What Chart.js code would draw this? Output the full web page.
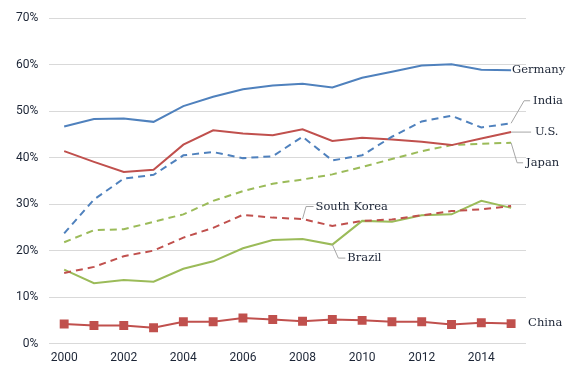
<!DOCTYPE html>
<html>
<head>
<meta charset="utf-8">
<script src="https://cdn.jsdelivr.net/npm/chart.js@4"></script>
<style>
  html, body { margin: 0; padding: 0; background: #fff; }
  #wrap { width: 585px; height: 375px; }
</style>
</head>
<body>
<div id="wrap"><canvas id="grafico"></canvas></div>
<script>
const anos = ["2000","2001","2002","2003","2004","2005","2006","2007","2008","2009","2010","2011","2012","2013","2014","2015"];

const germany    = [46.7, 48.3, 48.4, 47.7, 51.1, 53.1, 54.7, 55.5, 55.9, 55.1, 57.2, 58.5, 59.8, 60.1, 58.9, 58.8];
const india      = [23.7, 31.0, 35.5, 36.3, 40.5, 41.2, 39.9, 40.3, 44.5, 39.4, 40.5, 44.5, 47.8, 49.0, 46.5, 47.4];
const us         = [41.4, 39.1, 36.9, 37.4, 42.8, 45.9, 45.2, 44.8, 46.1, 43.6, 44.3, 43.9, 43.4, 42.7, 44.1, 45.5];
const japan      = [21.8, 24.4, 24.6, 26.2, 27.8, 30.7, 32.8, 34.4, 35.3, 36.4, 38.0, 39.7, 41.4, 42.7, 43.0, 43.2];
const southKorea = [15.2, 16.5, 18.8, 20.0, 22.8, 24.9, 27.7, 27.1, 26.8, 25.3, 26.4, 26.7, 27.6, 28.5, 28.9, 29.6];
const brazil     = [15.9, 13.0, 13.7, 13.3, 16.1, 17.7, 20.5, 22.3, 22.5, 21.3, 26.4, 26.2, 27.6, 27.8, 30.7, 29.2];
const china      = [4.2, 3.9, 3.9, 3.4, 4.7, 4.7, 5.5, 5.2, 4.8, 5.2, 5.0, 4.7, 4.7, 4.1, 4.5, 4.3];

const yTicks = [0, 10, 20, 30, 40, 50, 60, 70];

const AZUL = "#4f81bd";
const VERMELHO = "#c0504d";
const VERDE = "#9bbb59";
const TEXTO = "#1c2536";

// rótulos das séries: ponto de ancoragem + linha guia (deslocamentos em px)
const rotulos = [
  { serie: "Germany",     idx: 15, guia: [],                 texto: [1, 0] },
  { serie: "India",       idx: 15, guia: [[13, -22.5], [19, -22.5]], texto: [22, -22.5] },
  { serie: "U.S.",        idx: 15, guia: [[20, 0]],          texto: [24, 0] },
  { serie: "Japan",       idx: 15, guia: [[6, 20], [12, 20]], texto: [15, 20] },
  { serie: "South Korea", idx: 8,  guia: [[3.5, -12.5], [11, -12.5]], texto: [13, -12.5] },
  { serie: "Brazil",      idx: 9,  guia: [[6, 13.5], [13, 13.5]], texto: [15, 13.5] },
  { serie: "China",       idx: 15, guia: [],                 texto: [17, -1] },
];

const pluginRotulos = {
  id: "rotulos",
  afterDatasetsDraw(chart) {
    const ctx = chart.ctx;
    const x = chart.scales.x;
    const y = chart.scales.y;
    ctx.save();
    rotulos.forEach(r => {
      const ds = chart.data.datasets.find(d => d.label === r.serie);
      const px = x.getPixelForValue(r.idx);
      const py = y.getPixelForValue(ds.data[r.idx]);
      if (r.guia.length) {
        ctx.strokeStyle = "#a6a6a6";
        ctx.lineWidth = 1;
        ctx.beginPath();
        ctx.moveTo(px, py);
        r.guia.forEach(p => ctx.lineTo(px + p[0], py + p[1]));
        ctx.stroke();
      }
      ctx.fillStyle = TEXTO;
      ctx.font = "11.5px 'DejaVu Serif'";
      ctx.textAlign = "left";
      ctx.textBaseline = "middle";
      ctx.fillText(r.serie, px + r.texto[0], py + r.texto[1]);
    });
    ctx.restore();
  }
};

function linha(label, data, cor, tracejado) {
  return {
    label: label,
    data: data,
    borderColor: cor,
    backgroundColor: cor,
    borderWidth: 2,
    borderDash: tracejado ? [7, 5] : [],
    pointRadius: 0,
    tension: 0,
    fill: false,
  };
}

new Chart(document.getElementById("grafico").getContext("2d"), {
  type: "line",
  data: {
    labels: anos,
    datasets: [
      linha("Germany", germany, AZUL, false),
      linha("India", india, AZUL, true),
      linha("U.S.", us, VERMELHO, false),
      linha("Japan", japan, VERDE, true),
      linha("South Korea", southKorea, VERMELHO, true),
      linha("Brazil", brazil, VERDE, false),
      {
        label: "China",
        data: china,
        borderColor: VERMELHO,
        backgroundColor: VERMELHO,
        borderWidth: 2,
        pointStyle: "rect",
        pointRadius: 6.3,
        pointBorderWidth: 0,
        tension: 0,
        fill: false,
      },
    ],
  },
  options: {
    responsive: true,
    maintainAspectRatio: false,
    animation: false,
    layout: { padding: { top: 11, right: 59, bottom: 3, left: 5 } },
    plugins: {
      legend: { display: false },
      tooltip: { enabled: false },
    },
    scales: {
      x: {
        offset: true,
        grid: { display: false, drawTicks: false },
        border: { display: false },
        ticks: {
          autoSkip: false,
          maxRotation: 0,
          padding: 7,
          color: TEXTO,
          font: { family: "Roboto", size: 12 },
          callback: function (v, i) { return i % 2 === 0 ? anos[i] : ""; },
        },
      },
      y: {
        min: 0,
        max: 70,
        afterBuildTicks: function (axis) { axis.ticks = yTicks.map(v => ({ value: v })); },
        grid: { color: "#d9d9d9", lineWidth: 1, drawTicks: false },
        border: { display: false },
        ticks: {
          padding: 11,
          color: TEXTO,
          font: { family: "Roboto", size: 12 },
          callback: function (v) { return v + "%"; },
        },
      },
    },
  },
  plugins: [pluginRotulos],
});
</script>
</body>
</html>
